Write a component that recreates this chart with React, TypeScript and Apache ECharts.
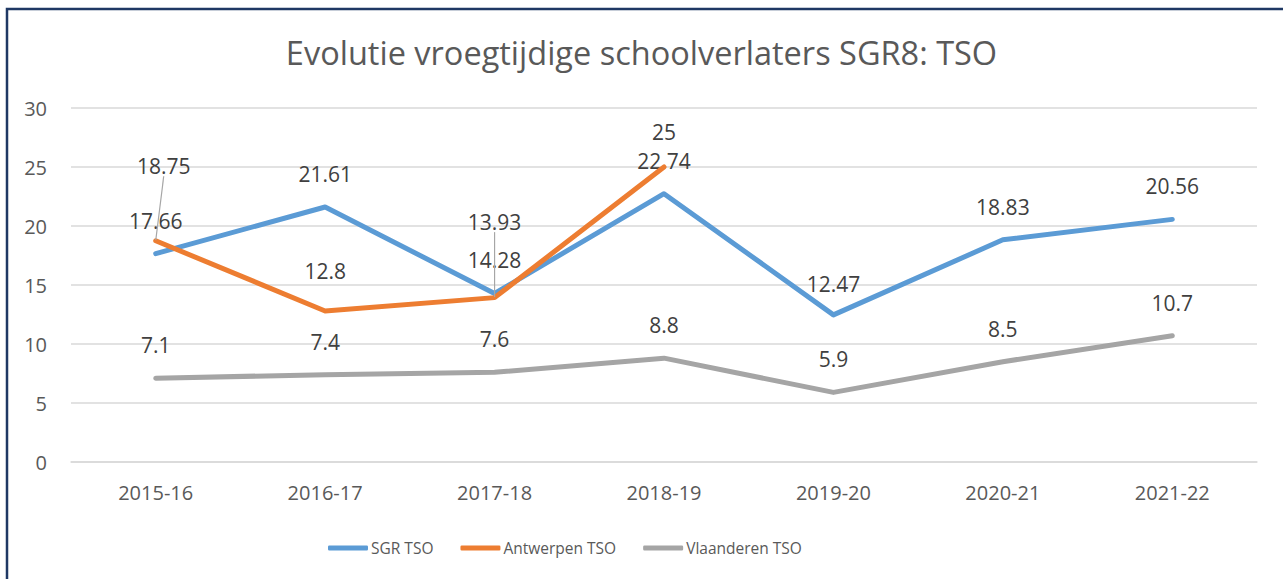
import React, { useEffect, useRef } from "react";
import * as echarts from "echarts";

const categories = ["2015-16", "2016-17", "2017-18", "2018-19", "2019-20", "2020-21", "2021-22"];
const sgrTso = [17.66, 21.61, 14.28, 22.74, 12.47, 18.83, 20.56];
const antwerpenTso: (number | null)[] = [18.75, 12.8, 13.93, 25, null, null, null];
const vlaanderenTso = [7.1, 7.4, 7.6, 8.8, 5.9, 8.5, 10.7];
const yTicks = { min: 0, max: 30, interval: 5 };

const FONT = "Open Sans";
const LABEL_COLOR = "#404040";

export default function App() {
  const ref = useRef<HTMLDivElement>(null);
  useEffect(() => {
    if (!ref.current) return;
    const chart = echarts.init(ref.current, undefined, { renderer: "svg" });
    const baseLabel = {
      show: true,
      position: "top",
      distance: 22,
      fontSize: 21,
      color: LABEL_COLOR,
      fontFamily: FONT,
    };
    const mk = (
      name: string,
      data: (number | null)[],
      color: string,
      z: number,
      moves: Record<number, { dx: number; dy: number; line?: boolean }>
    ) => ({
      name,
      type: "line",
      data: data.map((v, i) =>
        moves[i] && moves[i].line
          ? { value: v, labelLine: { show: true, lineStyle: { color: "#A6A6A6", width: 1.2 } } }
          : v
      ),
      symbol: "circle",
      symbolSize: 1,
      showSymbol: true,
      z,
      lineStyle: { color, width: 5, cap: "round", join: "round" },
      itemStyle: { color },
      label: baseLabel,
      labelLayout: (p: any) => {
        const m = moves[p.dataIndex];
        return m ? { dx: m.dx, dy: m.dy } : {};
      },
    });
    chart.setOption({
      animation: false,
      backgroundColor: "#ffffff",
      textStyle: { fontFamily: FONT },
      graphic: [
        {
          type: "rect",
          shape: { x: 7, y: 9, width: 1320, height: 620 },
          style: { fill: "none", stroke: "#1F3864", lineWidth: 2.5 },
          z: 100,
        },
      ],
      title: {
        text: "Evolutie vroegtijdige schoolverlaters SGR8: TSO",
        left: "center",
        top: 31,
        textStyle: { fontSize: 32.5, fontWeight: "normal", color: "#595959", fontFamily: FONT },
      },
      legend: {
        top: 535,
        left: 323,
        itemWidth: 40,
        itemHeight: 5,
        itemGap: 27,
        icon: "roundRect",
        textStyle: { fontSize: 15.5, color: "#595959", fontFamily: FONT, padding: [0, 0, 0, -2] },
        data: ["SGR TSO", "Antwerpen TSO", "Vlaanderen TSO"],
      },
      grid: { left: 71, right: 26, top: 108, bottom: 117, containLabel: false },
      xAxis: {
        type: "category",
        data: categories,
        boundaryGap: true,
        axisLine: { show: true, lineStyle: { color: "#D9D9D9", width: 1.5 } },
        axisTick: { show: false },
        axisLabel: { fontSize: 20, color: "#595959", margin: 20, fontFamily: FONT },
      },
      yAxis: {
        type: "value",
        min: yTicks.min,
        max: yTicks.max,
        interval: yTicks.interval,
        axisLine: { show: false },
        axisTick: { show: false },
        axisLabel: { fontSize: 20, color: "#595959", margin: 24, fontFamily: FONT },
        splitLine: { lineStyle: { color: "#D9D9D9", width: 1.5 } },
      },
      series: [
        mk("SGR TSO", sgrTso, "#5B9BD5", 3, { 4: { dx: 0, dy: 2 } }),
        mk("Antwerpen TSO", antwerpenTso, "#ED7D31", 4, {
          0: { dx: 8, dy: -42, line: true },
          1: { dx: 0, dy: -7 },
          2: { dx: 0, dy: -43, line: true },
          3: { dx: 0, dy: -2 },
        }),
        mk("Vlaanderen TSO", vlaanderenTso, "#A5A5A5", 2, {}),
      ],
    });
    return () => chart.dispose();
  }, []);
  return (
    <div
      ref={ref}
      style={{ position: "absolute", left: 0, top: 0, width: 1283, height: 579 }}
    />
  );
}
